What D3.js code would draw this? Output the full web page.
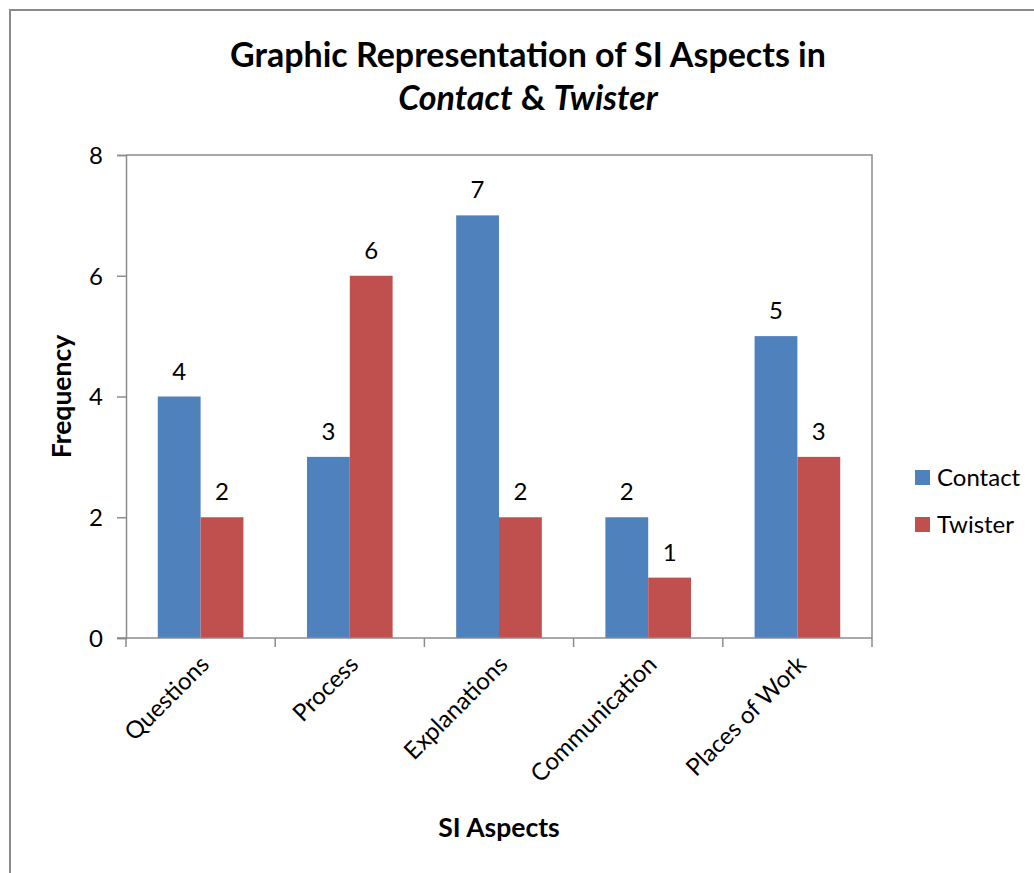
<!DOCTYPE html>
<html>
<head>
<meta charset="utf-8">
<script src="https://cdn.jsdelivr.net/npm/d3@7"></script>
<style>
  html, body { margin: 0; padding: 0; background: #fff; }
  svg { display: block; }
  text { font-family: Lato, "Open Sans", sans-serif; fill: #000; }
</style>
</head>
<body>
<svg id="chart" width="1034" height="873"></svg>
<script>
// SI aspects counted in the two texts
const categories = ["Questions", "Process", "Explanations", "Communication", "Places of Work"];
const seriesNames = ["Contact", "Twister"];
const contactValues = [4, 3, 7, 2, 5];
const twisterValues = [2, 6, 2, 1, 3];
const yTicks = [0, 2, 4, 6, 8];
const colors = ["#4F81BD", "#C0504D"];

const svg = d3.select("#chart");
const W = 1034, H = 873;
const labelSize = 24, axisTitleSize = 26.5, titleSize = 34;

// outer chart frame
svg.append("rect")
  .attr("x", 10).attr("y", 10)
  .attr("width", W + 20).attr("height", H + 20)
  .attr("fill", "#fff").attr("stroke", "#8a8a8a").attr("stroke-width", 2);

const plot = { left: 126, right: 872, top: 155, bottom: 638 };

const x0 = d3.scaleBand().domain(categories)
  .range([plot.left, plot.right]).paddingInner(0.426).paddingOuter(0.213);
const x1 = d3.scaleBand().domain(seriesNames).range([0, x0.bandwidth()]);
const y = d3.scaleLinear().domain([0, 8]).range([plot.bottom, plot.top]);

const axisColor = "#8c8c8c";

// plot area border (top and right)
svg.append("path")
  .attr("d", `M${plot.left},${plot.top}H${plot.right}V${plot.bottom}`)
  .attr("fill", "none").attr("stroke", axisColor).attr("stroke-width", 1.5);

// bars
const rows = categories.map((c, i) => ({ cat: c, vals: [contactValues[i], twisterValues[i]] }));
const groups = svg.append("g").selectAll("g").data(rows).join("g")
  .attr("transform", d => `translate(${x0(d.cat)},0)`);

groups.selectAll("rect")
  .data(d => d.vals.map((v, j) => ({ name: seriesNames[j], v, j })))
  .join("rect")
  .attr("x", d => x1(d.name))
  .attr("width", x1.bandwidth())
  .attr("y", d => y(d.v))
  .attr("height", d => y(0) - y(d.v))
  .attr("fill", d => colors[d.j]);

// value labels
groups.selectAll("text")
  .data(d => d.vals.map((v, j) => ({ name: seriesNames[j], v, j })))
  .join("text")
  .attr("x", d => x1(d.name) + x1.bandwidth() / 2)
  .attr("y", d => y(d.v) - 17)
  .attr("text-anchor", "middle")
  .attr("font-size", labelSize)
  .text(d => d.v);

// y axis
const yAxis = svg.append("g")
  .attr("transform", `translate(${plot.left},0)`)
  .call(d3.axisLeft(y).tickValues(yTicks).tickSize(9).tickPadding(14).tickFormat(d3.format("d")));
yAxis.select(".domain").attr("stroke", axisColor).attr("stroke-width", 1.5);
yAxis.selectAll(".tick line").attr("stroke", axisColor).attr("stroke-width", 1.5);
yAxis.selectAll(".tick text").attr("font-size", labelSize).attr("font-family", "Lato, sans-serif")
  .attr("fill", "#222").attr("dy", "0.35em");

// x axis with boundary ticks between categories
const xAxisG = svg.append("g").attr("transform", `translate(0,${plot.bottom})`);
xAxisG.append("line")
  .attr("x1", plot.left - 9).attr("x2", plot.right)
  .attr("stroke", axisColor).attr("stroke-width", 1.5);
const step = x0.step();
const boundaries = d3.range(categories.length + 1).map(i => plot.left + i * step);
xAxisG.selectAll("line.tk").data(boundaries).join("line")
  .attr("class", "tk")
  .attr("x1", d => d).attr("x2", d => d)
  .attr("y1", 0).attr("y2", 9)
  .attr("stroke", axisColor).attr("stroke-width", 1.5);

xAxisG.selectAll("text.cat").data(categories).join("text")
  .attr("class", "cat")
  .attr("text-anchor", "end")
  .attr("font-size", labelSize)
  .attr("transform", d => `translate(${x0(d) + x0.bandwidth() / 2 + 10},${28}) rotate(-45)`)
  .text(d => d);

// axis titles
svg.append("text")
  .attr("transform", `translate(71,${(plot.top + plot.bottom) / 2}) rotate(-90)`)
  .attr("text-anchor", "middle")
  .attr("font-size", axisTitleSize).attr("font-weight", "bold")
  .text("Frequency");

svg.append("text")
  .attr("x", (plot.left + plot.right) / 2).attr("y", 837)
  .attr("text-anchor", "middle")
  .attr("font-size", axisTitleSize).attr("font-weight", "bold")
  .text("SI Aspects");

// title
const title = svg.append("text")
  .attr("text-anchor", "middle")
  .attr("font-size", titleSize).attr("font-weight", "bold");
title.append("tspan").attr("x", 528).attr("y", 67).text("Graphic Representation of SI Aspects in");
const line2 = title.append("tspan").attr("x", 528).attr("y", 110);
line2.append("tspan").attr("font-style", "italic").text("Contact");
line2.append("tspan").text(" & ");
line2.append("tspan").attr("font-style", "italic").text("Twister");

// legend
const legend = svg.append("g").selectAll("g").data(seriesNames).join("g")
  .attr("transform", (d, i) => `translate(915,${478 + i * 47})`);
legend.append("rect")
  .attr("x", 0).attr("y", -8).attr("width", 15).attr("height", 15)
  .attr("fill", (d, i) => colors[i]);
legend.append("text")
  .attr("x", 22).attr("y", 0).attr("dy", "0.35em")
  .attr("font-size", labelSize)
  .text(d => d);
</script>
</body>
</html>
